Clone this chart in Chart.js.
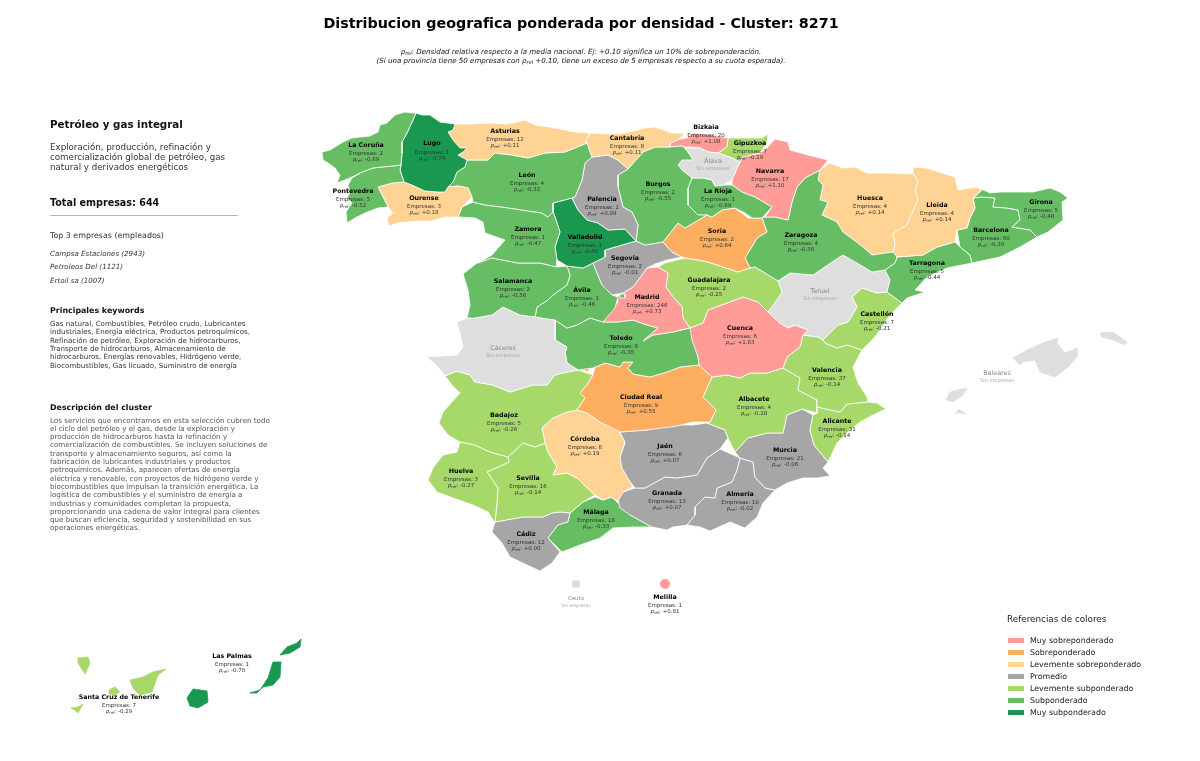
<!DOCTYPE html>
<html lang="es">
<head>
<meta charset="utf-8">
<title>Distribucion geografica - Cluster 8271</title>
<script src="https://cdn.jsdelivr.net/npm/chart.js@4"></script>
<style>
    html, body { margin: 0; padding: 0; background: #fff; }
    body { position: relative; width: 1200px; height: 761px; overflow: hidden; font-family: "DejaVu Sans", sans-serif; }
    #mapChart { position: absolute; left: 0; top: 0; }
    .txt { position: absolute; white-space: nowrap; line-height: 1; transform: translateY(-50%); }
    .center { transform: translate(-50%, -50%); }
    .swatch { position: absolute; width: 16px; height: 5px; }
    .rule { position: absolute; left: 50px; top: 215px; width: 188px; height: 1px; background: #b5b5b5; }
    sub { font-size: 70%; line-height: 0; vertical-align: -0.2em; }
</style>
</head>
<body>
<canvas id="mapChart" width="1200" height="761"></canvas>
<div id="overlay"></div>
<script>
// Values, one entry per province
const provinceNames = ['La Coruña', 'Lugo', 'Asturias', 'Pontevedra', 'Ourense', 'León', 'Zamora', 'Cantabria', 'Bizkaia', 'Gipuzkoa', 'Álava', 'Navarra', 'Palencia', 'Burgos', 'La Rioja', 'Soria', 'Valladolid', 'Segovia', 'Salamanca', 'Ávila', 'Madrid', 'Guadalajara', 'Zaragoza', 'Huesca', 'Lleida', 'Girona', 'Barcelona', 'Tarragona', 'Teruel', 'Castellón', 'Cáceres', 'Toledo', 'Cuenca', 'Valencia', 'Ciudad Real', 'Albacete', 'Badajoz', 'Córdoba', 'Jaén', 'Alicante', 'Murcia', 'Huelva', 'Sevilla', 'Granada', 'Almería', 'Málaga', 'Cádiz', 'Ceuta', 'Melilla', 'Baleares', 'Las Palmas', 'Santa Cruz de Tenerife'];
const companies = [2, 1, 12, 5, 3, 4, 1, 8, 20, 7, null, 17, 2, 2, 1, 2, 1, 2, 2, 1, 246, 2, 4, 4, 4, 5, 60, 5, null, 7, null, 6, 6, 37, 9, 4, 5, 8, 6, 31, 21, 3, 16, 13, 10, 18, 12, null, 1, null, 1, 7];
const rhoRel = [-0.69, -0.74, 0.11, -0.52, 0.18, -0.32, -0.47, 0.11, 1.08, -0.19, null, 1.10, 0.09, -0.55, -0.69, 0.64, -0.80, -0.01, -0.56, -0.46, 0.73, -0.25, -0.56, 0.14, 0.14, -0.48, -0.39, -0.44, null, -0.21, null, -0.35, 1.63, -0.14, 0.55, -0.28, -0.26, 0.19, 0.07, -0.14, -0.06, -0.27, -0.14, 0.07, -0.02, -0.33, 0.00, null, 0.81, null, -0.78, -0.29];
const labelX = [366, 432, 505, 353, 424, 527, 528, 627, 706, 750, 713, 770, 602, 658, 718, 717, 585, 625, 513, 582, 647, 709, 801, 870, 937, 1041, 991, 927, 820, 877, 503, 621, 740, 827, 641, 754, 504, 585, 665, 837, 785, 461, 528, 667, 740, 596, 526, 576, 665, 997, 232, 119];
const labelY = [145, 143.5, 131, 191, 198, 175, 229, 138, 127, 143, 161, 171, 199, 184, 191, 231, 237, 258, 281, 290, 297, 280, 235, 198, 205, 202, 230, 263, 291, 314, 348, 338, 328, 370, 397, 399, 415, 439, 446, 421, 450, 471, 478, 493, 494, 512, 534, 599, 597, 373, 656, 697];

const legendLabels = ['Muy sobreponderado', 'Sobreponderado', 'Levemente sobreponderado', 'Promedio', 'Levemente subponderado', 'Subponderado', 'Muy subponderado'];
const legendColors = ['#ff9c97', '#fdae61', '#fed394', '#a6a6a6', '#a6d96a', '#66bd63', '#1a9850'];
const classLimits = [0.7, 0.3, 0.1, -0.1, -0.3, -0.7];
const noDataColor = '#dedede';

// Province outlines in map units, flat x,y lists. Later entries paint over earlier ones.
const outlines = {
    'La Coruña': [[322,152,330,150,335,147,343,142,352,138,360,137,370,136,378,132,380,125,387,123,395,115,405,112,412,113,416,113,413,120,407,133,402,142,402,153,401,165,393,166,382,167,373,168,362,172,352,177,345,180,337,183,340,175,335,168,328,163,323,160]],
    'Pontevedra': [[352,178,362,172,373,168,382,167,393,166,401,165,400,170,404,182,392,183,378,187,383,197,388,207,378,208,365,213,355,218,347,223,346,212,352,203,347,198,350,192,348,185]],
    'Lugo': [[416,113,422,115,430,115,440,122,455,124,453,130,448,132,453,140,460,148,467,148,463,152,458,155,467,160,465,167,457,172,453,182,448,187,445,192,438,192,425,191,412,185,404,182,400,170,401,165,402,153,402,142,407,133,413,120]],
    'Ourense': [[378,187,392,183,404,182,412,185,425,191,438,192,445,192,448,187,458,186,468,188,472,197,462,207,458,217,445,217,432,221,418,221,398,223,389,226,387,218,393,213,388,207,383,197]],
    'Asturias': [[448,132,455,124,472,124,488,123,508,124,525,120,535,125,555,128,575,132,590,133,585,142,587,143,565,152,545,153,528,158,512,155,495,153,488,160,467,160,458,155,463,152,467,148,460,148,453,140]],
    'León': [[467,160,488,160,495,153,512,155,528,158,545,153,565,152,587,143,590,152,592,157,585,163,582,180,575,197,572,198,553,203,553,212,548,217,542,213,522,210,502,207,485,205,473,202,472,197,468,188,458,186,448,187,453,182,457,172,465,167]],
    'Zamora': [[458,217,462,207,473,202,485,205,502,207,522,210,542,213,548,217,553,212,555,217,560,232,555,247,557,260,557,267,540,263,518,263,492,258,478,263,492,255,505,240,485,233,483,222,475,218]],
    'Cantabria': [[590,133,608,134,625,133,645,128,655,127,672,133,685,133,678,140,670,143,670,147,655,147,643,152,628,169,618,160,608,155,592,157,590,152,587,143,585,142]],
    'Palencia': [[592,157,608,155,618,160,628,169,618,175,618,187,623,207,632,212,638,225,636,241,625,229,608,230,598,223,587,220,578,210,572,198,575,197,582,180,585,163]],
    'Valladolid': [[553,203,572,198,578,210,587,220,598,223,608,230,625,229,636,241,622,245,605,250,605,257,593,263,583,268,567,266,557,260,555,247,560,232,555,217,553,212]],
    'Álava': [[685,148,700,148,708,152,718,153,732,158,740,162,735,173,732,180,723,185,715,186,712,180,703,178,692,178,682,170,678,165,682,160,693,160,690,155]],
    'Burgos': [[618,175,628,169,643,152,655,147,670,147,682,146,685,148,690,155,695,160,682,162,678,165,692,175,692,178,688,188,688,205,698,215,707,215,685,228,678,223,663,242,645,245,636,241,638,225,632,212,623,207,618,187],[703,172,712,168,725,170,723,173,715,176,707,175]],
    'Bizkaia': [[670,142,675,140,687,138,693,133,712,135,728,138,727,147,718,153,708,152,700,148,690,147,685,147,682,146,670,147]],
    'Gipuzkoa': [[728,138,745,138,762,138,768,134,767,143,760,153,743,157,740,162,732,158,718,153,727,147]],
    'La Rioja': [[692,178,703,178,712,180,715,186,723,185,732,185,742,192,755,197,772,207,762,218,752,218,745,213,735,208,722,210,712,217,707,215,698,215,688,205,688,188]],
    'Navarra': [[760,153,767,148,775,139,788,142,790,150,808,155,828,160,820,170,805,178,797,187,792,202,788,220,775,217,765,217,772,207,755,197,742,192,732,185,732,180,735,173,740,162,743,157]],
    'Soria': [[663,242,678,223,685,228,707,215,712,217,722,210,735,208,748,218,762,218,767,232,757,238,745,258,750,268,738,272,732,270,708,262,698,260,685,258,682,257,672,252]],
    'Segovia': [[605,250,622,245,636,241,645,245,663,242,672,252,682,257,667,260,655,264,647,268,633,287,623,293,612,295,602,285,593,263,605,257]],
    'Salamanca': [[492,258,518,263,540,263,557,267,567,266,570,275,567,285,553,295,548,300,537,307,535,317,520,315,503,307,492,315,475,318,467,318,470,305,468,290,463,274,477,263]],
    'Ávila': [[567,266,583,268,593,263,602,285,612,295,618,297,615,308,603,322,590,318,577,325,567,328,555,320,535,317,537,307,548,300,553,295,567,285,570,275],[620,294,625,294,625,298,620,298]],
    'Madrid': [[658,267,668,273,666,287,673,297,682,307,683,318,690,328,680,330,673,332,653,335,643,341,658,328,647,325,633,320,617,322,603,322,610,312,618,302,617,297,623,293,633,287,647,268]],
    'Guadalajara': [[665,263,685,258,698,260,708,262,732,270,738,272,750,268,755,267,778,281,782,292,772,307,768,312,758,302,743,297,727,303,708,310,703,323,690,328,683,318,682,307,673,297,666,287,668,273,658,267]],
    'Zaragoza': [[788,220,792,202,797,187,805,178,820,170,818,180,823,185,820,200,828,202,822,215,837,222,843,232,863,247,872,255,893,252,897,257,895,263,885,270,872,272,857,263,843,255,835,260,813,275,790,273,778,281,755,267,750,268,745,258,757,238,767,232,762,218,765,217,775,217]],
    'Huesca': [[820,170,830,163,843,168,855,167,867,173,890,173,913,174,918,180,915,190,918,200,910,217,907,225,893,233,895,245,893,252,872,255,863,247,843,232,837,222,822,215,828,202,820,200,823,185,818,180]],
    'Lleida': [[913,167,927,168,942,173,955,177,958,190,977,187,982,190,973,198,975,208,970,218,967,228,957,230,955,242,937,247,923,255,897,257,893,252,895,245,893,233,907,225,910,217,918,200,915,190,918,180,913,174]],
    'Girona': [[977,187,990,193,1000,192,1017,192,1033,192,1050,188,1060,192,1068,198,1062,202,1063,220,1048,232,1037,237,1030,230,1012,227,1020,220,1018,210,1007,208,993,207,995,198,982,197,973,198,982,190]],
    'Barcelona': [[973,198,982,197,995,198,993,207,1007,208,1018,210,1020,220,1012,227,1030,230,1037,237,1020,247,1000,257,972,263,970,255,960,247,957,230,967,228,970,218,975,208]],
    'Tarragona': [[897,257,923,255,937,247,955,242,960,247,970,255,972,263,947,268,927,277,915,290,925,292,907,298,902,303,887,292,890,280,885,270,895,263]],
    'Teruel': [[778,281,790,273,813,275,835,260,843,255,857,263,872,272,885,270,890,280,887,292,877,293,862,288,852,297,857,307,848,322,838,325,823,340,818,337,803,335,808,330,795,325,788,328,780,323,768,312,772,307,782,292]],
    'Castellón': [[823,340,838,325,848,322,857,307,852,297,862,288,877,293,887,292,902,303,890,315,875,337,862,350,847,345,837,348,825,343]],
    'Cáceres': [[427,357,457,355,463,347,460,333,457,322,467,318,475,318,492,315,503,307,520,315,535,317,555,320,555,340,567,347,565,353,567,363,578,370,567,372,555,375,547,385,533,385,510,392,493,385,475,382,470,375,457,371,445,376,438,367]],
    'Toledo': [[555,320,567,328,577,325,590,318,603,322,617,322,633,320,647,325,658,328,643,341,653,335,673,332,690,328,692,340,698,357,699,365,680,367,667,372,650,377,633,374,628,368,633,362,623,362,620,367,605,363,593,368,578,370,567,363,565,353,567,347,555,340]],
    'Cuenca': [[690,328,703,323,708,310,727,303,743,297,758,302,768,312,780,323,788,328,795,325,808,330,803,335,800,347,787,357,783,368,767,373,750,373,740,378,727,375,712,377,699,365,698,357,688,337]],
    'Valencia': [[803,335,818,337,823,340,825,343,837,348,847,345,862,350,853,367,858,383,867,397,868,402,847,404,840,412,817,407,817,400,798,390,800,378,783,368,787,357,800,347],[788,328,795,325,808,330,803,335,793,334]],
    'Ciudad Real': [[595,367,605,363,620,367,623,362,633,362,628,368,633,374,650,377,667,372,680,367,699,365,712,377,703,397,716,410,710,422,693,422,677,426,647,430,620,432,600,422,587,413,577,410,585,398,580,393,587,385,593,375],[581,368,583,363,590,362,592,367,587,372]],
    'Albacete': [[712,377,727,375,740,378,750,373,767,373,783,368,800,378,798,390,817,400,817,407,817,413,802,409,787,415,783,433,767,433,748,438,735,452,728,438,725,430,707,423,710,422,716,410,703,397]],
    'Badajoz': [[445,376,457,371,470,375,475,382,493,385,510,392,533,385,547,385,555,375,567,372,578,370,593,375,587,385,580,393,585,398,577,410,567,412,553,418,542,428,545,443,535,447,523,443,508,457,490,452,475,445,460,442,448,435,439,423,443,412,460,393,452,385]],
    'Córdoba': [[577,410,587,413,600,422,618,430,625,442,620,457,622,468,633,487,623,492,618,501,610,497,603,500,595,495,587,488,577,478,567,473,553,475,557,467,548,452,545,443,542,428,553,418,567,412]],
    'Jaén': [[620,432,647,430,667,425,693,425,707,423,725,430,728,438,720,449,707,458,697,475,677,478,665,477,645,488,635,488,623,473,619,460,625,443]],
    'Alicante': [[817,407,840,412,847,404,868,402,877,403,886,409,873,415,860,422,847,433,837,443,828,462,814,445,810,430,813,415,817,413]],
    'Murcia': [[735,452,748,438,767,433,783,433,787,415,802,409,813,415,810,430,814,445,828,462,823,468,830,476,817,478,803,478,787,483,775,490,765,488,755,477,753,462,740,458]],
    'Huelva': [[460,442,475,445,490,452,508,457,509,462,487,472,498,488,497,503,495,523,488,512,473,505,453,498,437,492,428,480,433,468,443,455,457,452]],
    'Sevilla': [[508,457,523,443,535,447,545,443,548,452,557,467,553,475,567,473,577,478,587,488,595,495,583,502,570,513,560,512,552,513,543,517,523,517,495,522,497,503,498,488,487,472,509,462]],
    'Granada': [[618,500,623,492,635,488,645,488,665,477,677,478,697,475,707,458,720,449,740,458,737,470,732,482,717,488,715,498,705,497,695,507,695,515,687,525,673,527,667,530,652,527,630,515,620,508]],
    'Almería': [[687,525,695,515,695,507,705,497,715,498,717,488,732,482,737,470,740,458,753,462,755,477,765,488,775,490,763,503,757,517,745,528,730,522,710,531,700,527]],
    'Málaga': [[570,513,583,502,595,497,603,500,612,497,618,503,630,515,652,527,633,527,613,528,600,538,580,545,562,552,548,538,558,525,568,522]],
    'Cádiz': [[495,522,523,517,543,517,552,513,560,512,570,513,568,522,558,525,548,538,560,552,552,563,540,571,527,565,510,557,502,543,492,532]],
    'Baleares': [[1013,358,1027,350,1043,343,1058,338,1057,343,1065,353,1077,348,1077,357,1068,367,1055,377,1040,372,1035,360,1023,362,1020,365],[1100,333,1113,332,1127,342,1125,345,1113,340,1102,337],[946,400,950,392,967,388,963,395,953,402],[956,413,959,409,966,414,959,413]],
    'Las Palmas': [[187,698,193,689,207,691,208,702,198,708,190,706],[250,693,260,690,268,678,273,662,281,662,280,677,273,685,263,687,257,693],[280,655,287,647,297,643,301,639,300,647,290,653]],
    'Santa Cruz de Tenerife': [[78,658,88,657,90,663,85,674,78,663],[109,690,115,687,120,692,115,695,110,694],[71,708,78,707,83,704,78,713,75,710],[130,680,143,677,153,672,166,669,158,675,152,692,140,695,133,688]]
};
// Ceuta and Melilla are too small for an outline, the map shows them as dots
const dotProvinces = ['Ceuta', 'Melilla'];
const dotX = [576, 665];
const dotY = [584, 584];
const dotRadius = [4, 5];

function provinceColor(name) {
    const rho = rhoRel[provinceNames.indexOf(name)];
    if (rho === null) return noDataColor;
    const idx = classLimits.findIndex(limit => rho >= limit);
    return legendColors[idx === -1 ? legendColors.length - 1 : idx];
}

function ringToPoints(ring) {
    const pts = [];
    for (let i = 0; i < ring.length; i += 2) pts.push({ x: ring[i], y: ring[i + 1] });
    pts.push({ x: ring[0], y: ring[1] }); // close it
    return pts;
}

const datasets = [];
Object.keys(outlines).forEach(name => {
    const noBorder = name === 'Baleares' || name === 'Las Palmas' || name === 'Santa Cruz de Tenerife';
    outlines[name].forEach(ring => {
        datasets.push({
            label: name,
            data: ringToPoints(ring),
            showLine: true,
            fill: 'shape',
            tension: 0,
            backgroundColor: provinceColor(name),
            borderColor: noBorder ? provinceColor(name) : '#ffffff',
            borderWidth: 0.8,
            pointRadius: 0
        });
    });
});
dotProvinces.forEach((name, i) => {
    datasets.push({
        label: name,
        data: [{ x: dotX[i], y: dotY[i] }],
        backgroundColor: provinceColor(name),
        borderWidth: 0,
        pointRadius: dotRadius[i]
    });
});

// Draws the name / companies / rho block of every province on the canvas
const provinceLabels = {
    id: 'provinceLabels',
    afterDatasetsDraw(chart) {
        const ctx = chart.ctx;
        const sx = chart.scales.x;
        const sy = chart.scales.y;
        ctx.save();
        ctx.textBaseline = 'middle';
        ctx.textAlign = 'left';
        provinceNames.forEach((name, i) => {
            const x = sx.getPixelForValue(labelX[i]);
            const y = sy.getPixelForValue(labelY[i]);
            if (companies[i] === null) {
                const small = name === 'Ceuta';
                centered(ctx, name, x, y, `${small ? 5.4 : 6.4}px "DejaVu Sans"`, '#8a8a8a');
                centered(ctx, 'Sin empresas', x, y + (small ? 7 : 8), `${small ? 4.4 : 5}px "DejaVu Sans"`, '#a8a8a8');
                return;
            }
            centered(ctx, name, x, y, 'bold 6.3px "DejaVu Sans"', '#000');
            centered(ctx, `Empresas: ${companies[i]}`, x, y + 9, '5.5px "DejaVu Sans"', '#333');
            drawRho(ctx, rhoRel[i], x, y + 15);
        });
        ctx.restore();
    }
};

function centered(ctx, text, x, y, font, color) {
    ctx.font = font;
    ctx.fillStyle = color;
    ctx.fillText(text, x - ctx.measureText(text).width / 2, y);
}

function drawRho(ctx, rho, x, y) {
    const value = `: ${rho >= 0 ? '+' : ''}${rho.toFixed(2)}`;
    const bigFont = 'italic 5.5px "DejaVu Sans"';
    const subFont = 'italic 3.9px "DejaVu Sans"';
    const valueFont = '5.5px "DejaVu Sans"';
    ctx.font = bigFont;
    const w1 = ctx.measureText('ρ').width;
    ctx.font = subFont;
    const w2 = ctx.measureText('rel').width;
    ctx.font = valueFont;
    const w3 = ctx.measureText(value).width;
    let left = x - (w1 + w2 + w3) / 2;
    ctx.fillStyle = '#333';
    ctx.font = bigFont;
    ctx.fillText('ρ', left, y);
    left += w1;
    ctx.font = subFont;
    ctx.fillText('rel', left, y + 1.3);
    left += w2;
    ctx.font = valueFont;
    ctx.fillText(value, left, y);
}

new Chart(document.getElementById('mapChart'), {
    type: 'scatter',
    data: { datasets },
    options: {
        responsive: false,
        animation: false,
        layout: { padding: 0, autoPadding: false },
        scales: {
            x: { type: 'linear', min: 0, max: 1200, display: false },
            y: { type: 'linear', min: 0, max: 761, reverse: true, display: false }
        },
        plugins: {
            legend: { display: false },
            title: { display: false },
            tooltip: { enabled: false }
        }
    },
    plugins: [provinceLabels]
});

// Side panel, title and legend as plain html text
const rel = '<i>ρ<sub>rel</sub></i>';
const overlay = document.getElementById('overlay');
function addText(html, x, y, size, css = '', centerIt = false) {
    const el = document.createElement('div');
    el.className = centerIt ? 'txt center' : 'txt';
    el.style.cssText = `left:${x}px;top:${y}px;font-size:${size}px;${css}`;
    el.innerHTML = html;
    overlay.appendChild(el);
}

addText('Distribucion geografica ponderada por densidad - Cluster: 8271', 581, 23, 14.3, 'font-weight:bold;color:#000;', true);
addText(`${rel}: Densidad relativa respecto a la media nacional. Ej: +0.10 significa un 10% de sobreponderación.`, 581, 52, 7.1, 'font-style:italic;color:#111;', true);
addText(`(Si una provincia tiene 50 empresas con ${rel} +0.10, tiene un exceso de 5 empresas respecto a su cuota esperada).`, 581, 60.5, 7.1, 'font-style:italic;color:#111;', true);

addText('Petróleo y gas integral', 50, 124, 10.3, 'font-weight:bold;color:#111;');
const summaryLines = ['Exploración, producción, refinación y', 'comercialización global de petróleo, gas', 'natural y derivados energéticos'];
summaryLines.forEach((line, i) => addText(line, 50, 146.5 + i * 10, 8.7, 'color:#333;'));
addText('Total empresas: 644', 50, 203, 9.6, 'font-weight:bold;color:#111;');
const rule = document.createElement('div');
rule.className = 'rule';
overlay.appendChild(rule);
addText('Top 3 empresas (empleados)', 50, 236, 7.9, 'color:#333;');
const topCompanies = ['Campsa Estaciones (2943)', 'Petroleos Del (1121)', 'Ertoil sa (1007)'];
topCompanies.forEach((line, i) => addText(line, 50, 253.7 + i * 13.4, 7.1, 'font-style:italic;color:#333;'));

addText('Principales keywords', 50, 311, 7.9, 'font-weight:bold;color:#111;');
const keywordLines = ['Gas natural, Combustibles, Petróleo crudo, Lubricantes', 'industriales, Energía eléctrica, Productos petroquímicos,', 'Refinación de petróleo, Exploración de hidrocarburos,', 'Transporte de hidrocarburos, Almacenamiento de', 'hidrocarburos, Energías renovables, Hidrógeno verde,', 'Biocombustibles, Gas licuado, Suministro de energía'];
keywordLines.forEach((line, i) => addText(line, 50, 323.7 + i * 8.4, 7.1, 'color:#333;'));

addText('Descripción del cluster', 50, 408, 7.9, 'font-weight:bold;color:#111;');
const descriptionLines = ['Los servicios que encontramos en esta selección cubren todo', 'el ciclo del petróleo y el gas, desde la exploración y', 'producción de hidrocarburos hasta la refinación y', 'comercialización de combustibles. Se incluyen soluciones de', 'transporte y almacenamiento seguros, así como la', 'fabricación de lubricantes industriales y productos', 'petroquímicos. Además, aparecen ofertas de energía', 'eléctrica y renovable, con proyectos de hidrógeno verde y', 'biocombustibles que impulsan la transición energética. La', 'logística de combustibles y el suministro de energía a', 'industrias y comunidades completan la propuesta,', 'proporcionando una cadena de valor integral para clientes', 'que buscan eficiencia, seguridad y sostenibilidad en sus', 'operaciones energéticas.'];
descriptionLines.forEach((line, i) => addText(line, 50, 420.5 + i * 8.3, 7.15, 'color:#555;'));

addText('Referencias de colores', 1007, 619, 8.8, 'color:#222;');
legendLabels.forEach((label, i) => {
    const y = 640.7 + i * 12;
    const swatch = document.createElement('div');
    swatch.className = 'swatch';
    swatch.style.cssText = `left:1008px;top:${y - 2.5}px;background:${legendColors[i]};`;
    overlay.appendChild(swatch);
    addText(label, 1030, y, 7.9, 'color:#222;');
});
</script>
</body>
</html>
